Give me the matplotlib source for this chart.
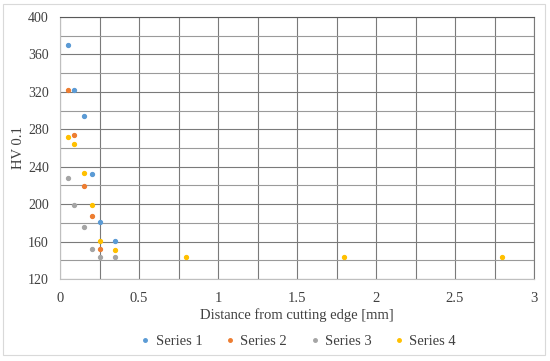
import matplotlib
matplotlib.use("Agg")
import matplotlib.pyplot as plt
from matplotlib.patches import Rectangle

x1 = [0.05, 0.09, 0.15, 0.2, 0.25, 0.35]
y1 = [370, 322, 294, 232, 181, 161]
x2 = [0.05, 0.09, 0.15, 0.2, 0.25]
y2 = [322, 274, 219, 187, 152]
x3 = [0.05, 0.09, 0.15, 0.2, 0.25, 0.35]
y3 = [228, 199, 176, 152, 143, 143]
x4 = [0.05, 0.09, 0.15, 0.2, 0.25, 0.35, 0.8, 1.8, 2.8]
y4 = [272, 264, 233, 199, 161, 151, 143, 143, 143]
names = ["Series 1", "Series 2", "Series 3", "Series 4"]
colors = ["#5B9BD5", "#ED7D31", "#A5A5A5", "#FFC000"]

plt.rcParams['font.family'] = ['Liberation Serif', 'DejaVu Serif']

fig = plt.figure(figsize=(5.5, 3.61), dpi=100)
ax = fig.add_axes([60/550, 1-279/361, (534-60)/550, (279-17)/361])

for xs, ys, c, n in zip([x1, x2, x3, x4], [y1, y2, y3, y4], colors, names):
    ax.plot(xs, ys, linestyle='none', marker='o', markersize=2.8, color=c, label=n, zorder=3)

ax.set_xlim(0, 3)
ax.set_ylim(120, 400)
ax.set_xticks([0, 0.5, 1, 1.5, 2, 2.5, 3])
ax.set_xticklabels(["0", "0.5", "1", "1.5", "2", "2.5", "3"])
ax.set_xticks([0.25, 0.75, 1.25, 1.75, 2.25, 2.75], minor=True)
ax.set_yticks(range(120, 401, 40))
ax.set_yticks(range(140, 400, 40), minor=True)
ax.grid(True, which='major', axis='both', color='#7a7a7a', linewidth=0.8)
ax.grid(True, which='minor', axis='x', color='#7a7a7a', linewidth=0.8)
ax.grid(True, which='minor', axis='y', color='#9a9a9a', linewidth=0.8)
ax.tick_params(which='both', length=0, labelsize=10.5, colors='#404040', pad=9)
ax.tick_params(axis='y', pad=8, labelsize=10)
for s in ['left', 'bottom']:
    ax.spines[s].set_color('#bfbfbf')
ax.spines['right'].set_color('#7a7a7a')
ax.spines['top'].set_color('#595959')
ax.set_xlabel("Distance from cutting edge [mm]", fontsize=10.5, color='#404040', labelpad=3)
ax.set_ylabel("HV 0.1", fontsize=10.5, color='#404040')
ax.yaxis.set_label_coords(-0.074, 0.5)

leg = ax.legend(loc='upper center', bbox_to_anchor=(0.5, -0.163), ncol=4, frameon=False,
                fontsize=10.5, handletextpad=0.2, columnspacing=1.4, handlelength=1.0,
                markerscale=0.9)
for t in leg.get_texts():
    t.set_color('#404040')

fig.patches.append(Rectangle((3/550, 6/361), 542/550, 351/361, transform=fig.transFigure,
                             fill=False, edgecolor='#d9d9d9', linewidth=0.8))

fig.savefig("out.png", dpi=100)
